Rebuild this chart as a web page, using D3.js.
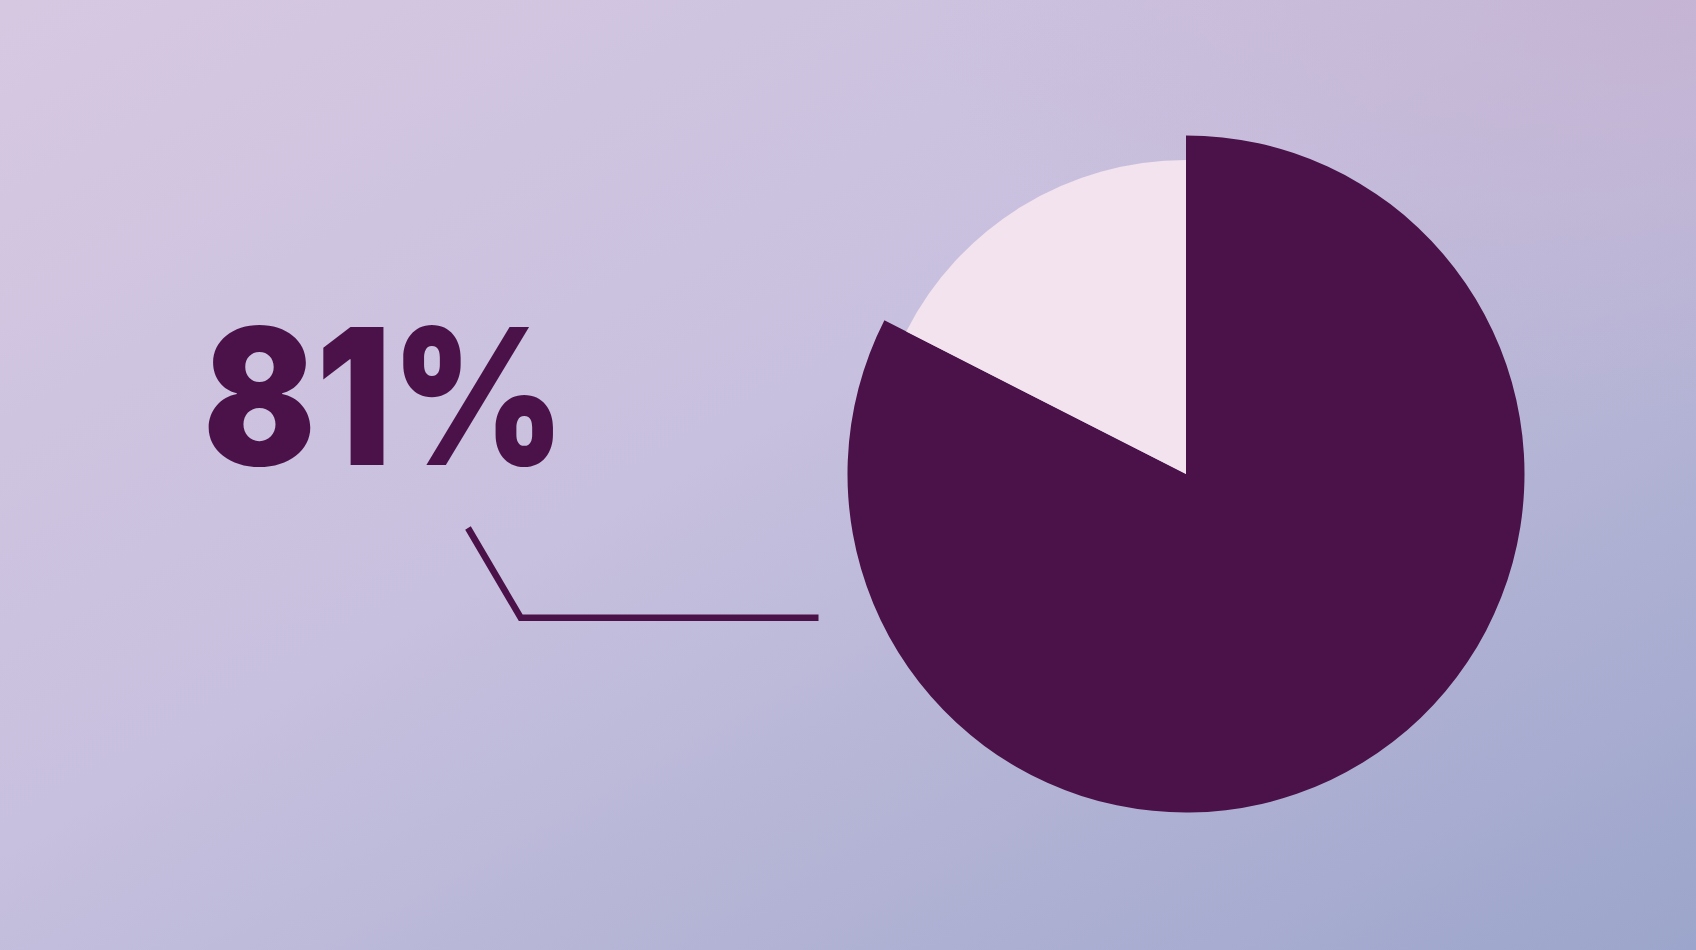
<!DOCTYPE html>
<html>
<head>
<meta charset="utf-8">
<script src="https://cdn.jsdelivr.net/npm/d3@7"></script>
<style>
  html, body { margin: 0; padding: 0; overflow: hidden; }
  svg { display: block; }
</style>
</head>
<body>
<div id="chart"></div>
<script>
// Chart data
var categories = ["Yes", "No"];
var shares = [82.5, 17.5];
var labelText = "81%";

var w = 1696;
var h = 950;

// Pie layout
var cx = 1186;
var cy = 474;
var outerBig = 338.5;
var outerSmall = 314;

var dark = "#4a1249";
var light = "#f2e3ee";

function main() {
  var svg = d3.select("#chart")
    .append("svg")
    .attr("width", w)
    .attr("height", h);

  // Background gradient
  var defs = svg.append("defs");
  var bg = defs.append("linearGradient")
    .attr("id", "bg")
    .attr("x1", "0%").attr("y1", "0%")
    .attr("x2", "100%").attr("y2", "100%");
  bg.append("stop").attr("offset", "0%").attr("stop-color", "#d7c8e2");
  bg.append("stop").attr("offset", "45%").attr("stop-color", "#c7c0de");
  bg.append("stop").attr("offset", "100%").attr("stop-color", "#9ca5cb");

  var glow = defs.append("radialGradient")
    .attr("id", "glow")
    .attr("cx", "100%").attr("cy", "0%").attr("r", "45%");
  glow.append("stop").attr("offset", "0%").attr("stop-color", "#c6b2d2").attr("stop-opacity", 0.8);
  glow.append("stop").attr("offset", "100%").attr("stop-color", "#c6b2d2").attr("stop-opacity", 0);

  svg.append("rect").attr("width", w).attr("height", h).attr("fill", "url(#bg)");
  svg.append("rect").attr("width", w).attr("height", h).attr("fill", "url(#glow)");

  // Pie
  var data = categories.map(function(c, i) { return { name: c, value: shares[i] }; });
  var pie = d3.pie().sort(null).value(function(d) { return d.value; });
  var arcs = pie(data);

  var radius = d3.scaleOrdinal().domain(categories).range([outerBig, outerSmall]);
  var color = d3.scaleOrdinal().domain(categories).range([dark, light]);

  var g = svg.append("g").attr("transform", "translate(" + cx + "," + cy + ")");
  g.selectAll("path")
    .data(arcs)
    .enter()
    .append("path")
    .attr("fill", function(d) { return color(d.data.name); })
    .attr("d", function(d) {
      return d3.arc().innerRadius(0).outerRadius(radius(d.data.name))(d);
    });

  // Big label
  svg.append("text")
    .attr("x", 203)
    .attr("y", 465)
    .attr("font-family", "Inter, 'Noto Sans', sans-serif")
    .attr("font-weight", 900)
    .attr("font-size", "190px")
    .attr("fill", dark)
    .attr("textLength", 362)
    .attr("lengthAdjust", "spacingAndGlyphs")
    .text(labelText);

  // Connector line
  var knee = [520.7, 617.7];
  svg.append("path")
    .attr("d", d3.line()([[468, 528], knee, [cx - outerBig - 29, knee[1]]]))
    .attr("fill", "none")
    .attr("stroke", dark)
    .attr("stroke-width", 6.5)
    .attr("stroke-linejoin", "miter");
}

window.onload = function() {
  main();
};
</script>
</body>
</html>
